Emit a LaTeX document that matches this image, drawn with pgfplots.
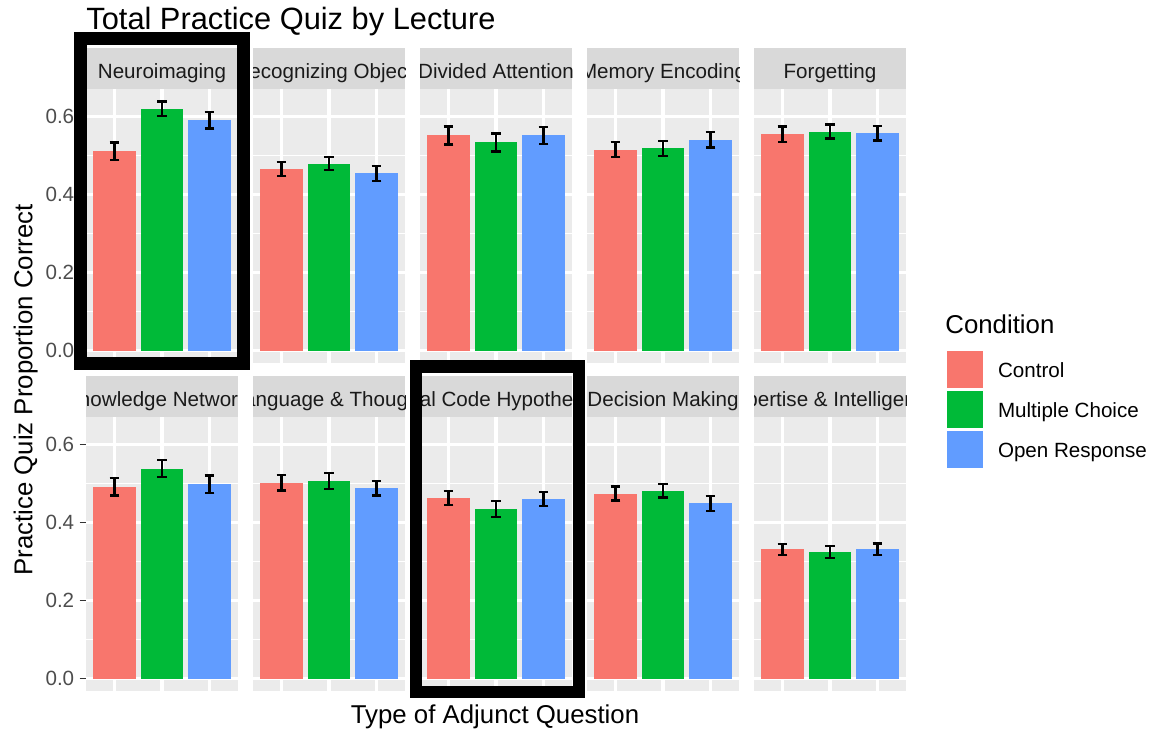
\documentclass[border=0pt]{standalone}
\usepackage{fontspec}
\setmainfont{Liberation Sans}
\usepackage{pgfplots}
\pgfplotsset{compat=1.18}

\definecolor{ctrl}{HTML}{F8766D}
\definecolor{mc}{HTML}{00BA38}
\definecolor{opr}{HTML}{619CFF}
\definecolor{panelbg}{HTML}{EBEBEB}
\definecolor{stripbg}{HTML}{D9D9D9}
\definecolor{striptext}{HTML}{1A1A1A}
\definecolor{tickgray}{HTML}{4D4D4D}
\definecolor{tickline}{HTML}{333333}

\newcommand{\titlesz}{\fontsize{15.4}{18}\selectfont}
\newcommand{\axsz}{\fontsize{12.9}{15}\selectfont}
\newcommand{\smallsz}{\fontsize{10.3}{12}\selectfont}

% facet strip: x, y of its top-left corner, label (clipped to the strip)
\newcommand{\strip}[3]{%
  \begin{scope}
    \fill[stripbg] (#1,#2) rectangle ++(76pt,-20.5pt);
    \clip (#1,#2) rectangle ++(76pt,-20.5pt);
    \node[anchor=base, inner sep=0pt, font=\smallsz, text=striptext]
      at ([xshift=38pt,yshift=-15pt]#1,#2) {#3};
  \end{scope}}

\pgfplotsset{
  panel/.style={
    scale only axis, width=76pt, height=137pt,
    anchor=north west,
    xmin=0.4, xmax=3.6, ymin=-0.0319, ymax=0.670,
    axis background/.style={fill=panelbg},
    axis line style={draw=none},
    xtick={1,2,3}, xticklabels={}, xtick style={draw=none},
    ytick={0,0.2,0.4,0.6}, minor ytick={0.1,0.3,0.5},
    yticklabels={}, ytick style={draw=none},
    xmajorgrids, ymajorgrids, yminorgrids,
    major grid style={white, line width=1.6pt},
    minor grid style={white, line width=0.8pt},
    minor tick length=0pt,
    every axis plot/.append style={ybar, bar width=0.9, bar shift=0pt, draw=none},
    error bars/y dir=both, error bars/y explicit,
    error bars/error bar style={draw=black, line width=1.1pt},
    error bars/error mark options={rotate=90, draw=black, line width=1.1pt, mark size=2.4pt},
  },
  leftpanel/.style={
    yticklabels={0.0,0.2,0.4,0.6},
    ytick pos=left,
    ytick style={draw=tickline, line width=0.5pt},
    tick align=outside, major tick length=3.2pt,
    yticklabel style={font=\smallsz, text=tickgray, inner sep=0pt, xshift=-2.5pt},
  },
}

\begin{document}
\begin{tikzpicture}
\useasboundingbox (0,0) rectangle (574.5pt,-364.5pt);

% ---------- top row ----------
\begin{axis}[panel, leftpanel, at={(43pt,-44.5pt)}]
\addplot[fill=ctrl] coordinates {(1,0.511) +- (0,0.022)};
\addplot[fill=mc]   coordinates {(2,0.619) +- (0,0.019)};
\addplot[fill=opr]  coordinates {(3,0.590) +- (0,0.021)};
\end{axis}

\begin{axis}[panel, at={(126.5pt,-44.5pt)}]
\addplot[fill=ctrl] coordinates {(1,0.465) +- (0,0.018)};
\addplot[fill=mc]   coordinates {(2,0.479) +- (0,0.016)};
\addplot[fill=opr]  coordinates {(3,0.454) +- (0,0.019)};
\end{axis}

\begin{axis}[panel, at={(210pt,-44.5pt)}]
\addplot[fill=ctrl] coordinates {(1,0.551) +- (0,0.023)};
\addplot[fill=mc]   coordinates {(2,0.533) +- (0,0.023)};
\addplot[fill=opr]  coordinates {(3,0.551) +- (0,0.022)};
\end{axis}

\begin{axis}[panel, at={(293.5pt,-44.5pt)}]
\addplot[fill=ctrl] coordinates {(1,0.515) +- (0,0.019)};
\addplot[fill=mc]   coordinates {(2,0.518) +- (0,0.019)};
\addplot[fill=opr]  coordinates {(3,0.540) +- (0,0.020)};
\end{axis}

\begin{axis}[panel, at={(377pt,-44.5pt)},
  legend style={at={(1.2697,0.0438)}, anchor=north west, draw=none, fill=none,
    inner sep=0pt, outer sep=0pt, row sep=1.5pt, column sep=7.5pt,
    font=\smallsz, cells={anchor=west}, nodes={inner sep=0pt}},
  ]
\addplot[fill=ctrl, legend image code/.code={\fill[ctrl] (0pt,-8.25pt) rectangle (18pt,10.25pt);}]
  coordinates {(1,0.554) +- (0,0.020)};
\addlegendentry{\vphantom{Cp}Control}
\addplot[fill=mc, legend image code/.code={\fill[mc] (0pt,-8.25pt) rectangle (18pt,10.25pt);}]
  coordinates {(2,0.561) +- (0,0.018)};
\addlegendentry{\vphantom{Cp}Multiple Choice}
\addplot[fill=opr, legend image code/.code={\fill[opr] (0pt,-8.25pt) rectangle (18pt,10.25pt);}]
  coordinates {(3,0.557) +- (0,0.019)};
\addlegendentry{\vphantom{Cp}Open Response}
\end{axis}

% ---------- bottom row ----------
\begin{axis}[panel, leftpanel, at={(43pt,-208.5pt)}]
\addplot[fill=ctrl] coordinates {(1,0.491) +- (0,0.022)};
\addplot[fill=mc]   coordinates {(2,0.538) +- (0,0.021)};
\addplot[fill=opr]  coordinates {(3,0.498) +- (0,0.022)};
\end{axis}

\begin{axis}[panel, at={(126.5pt,-208.5pt)}]
\addplot[fill=ctrl] coordinates {(1,0.502) +- (0,0.020)};
\addplot[fill=mc]   coordinates {(2,0.506) +- (0,0.021)};
\addplot[fill=opr]  coordinates {(3,0.488) +- (0,0.019)};
\end{axis}

\begin{axis}[panel, at={(210pt,-208.5pt)}]
\addplot[fill=ctrl] coordinates {(1,0.463) +- (0,0.018)};
\addplot[fill=mc]   coordinates {(2,0.434) +- (0,0.020)};
\addplot[fill=opr]  coordinates {(3,0.460) +- (0,0.017)};
\end{axis}

\begin{axis}[panel, at={(293.5pt,-208.5pt)}]
\addplot[fill=ctrl] coordinates {(1,0.474) +- (0,0.018)};
\addplot[fill=mc]   coordinates {(2,0.481) +- (0,0.017)};
\addplot[fill=opr]  coordinates {(3,0.449) +- (0,0.019)};
\end{axis}

\begin{axis}[panel, at={(377pt,-208.5pt)}]
\addplot[fill=ctrl] coordinates {(1,0.331) +- (0,0.014)};
\addplot[fill=mc]   coordinates {(2,0.324) +- (0,0.016)};
\addplot[fill=opr]  coordinates {(3,0.331) +- (0,0.015)};
\end{axis}

% ---------- facet strips (long names run past the strip and are cut) ----------
\strip{43pt}{-24pt}{Neuroimaging}
\strip{126.5pt}{-24pt}{\phantom{R}ecognizing Objec\phantom{ts}}
\strip{210pt}{-24pt}{Divided Attention}
\strip{293.5pt}{-24pt}{Memory Encoding}
\strip{377pt}{-24pt}{Forgetting}
\strip{43pt}{-188pt}{\phantom{K}nowledge Network\phantom{s}}
\strip{126.5pt}{-188pt}{\phantom{L}anguage \& Thoug\phantom{ht}}
\strip{210pt}{-188pt}{\phantom{Du}al Code Hypothe\phantom{sis}}
\strip{293.5pt}{-188pt}{Decision Making}
\strip{377pt}{-188pt}{\phantom{Ex}pertise \& Intelligen\phantom{ce}}

% ---------- titles ----------
\node[anchor=base west, inner sep=0pt, font=\titlesz] at (43pt,-14.5pt) {Total Practice Quiz by Lecture};
\node[rotate=90, anchor=base, inner sep=0pt, font=\axsz] at (16.25pt,-195pt) {Practice Quiz Proportion Correct};
\node[anchor=base, inner sep=0pt, font=\axsz] at (247.5pt,-361.5pt) {Type of Adjunct Question};
\node[anchor=base west, inner sep=0pt, font=\axsz] at (472.5pt,-166.5pt) {Condition};

% ---------- highlight frames ----------
\draw[black, line width=6.5pt] (40.25pt,-19.25pt) rectangle (121.75pt,-181.75pt);
\draw[black, line width=6.25pt] (208pt,-183.25pt) rectangle (289.5pt,-346pt);
\end{tikzpicture}
\end{document}
